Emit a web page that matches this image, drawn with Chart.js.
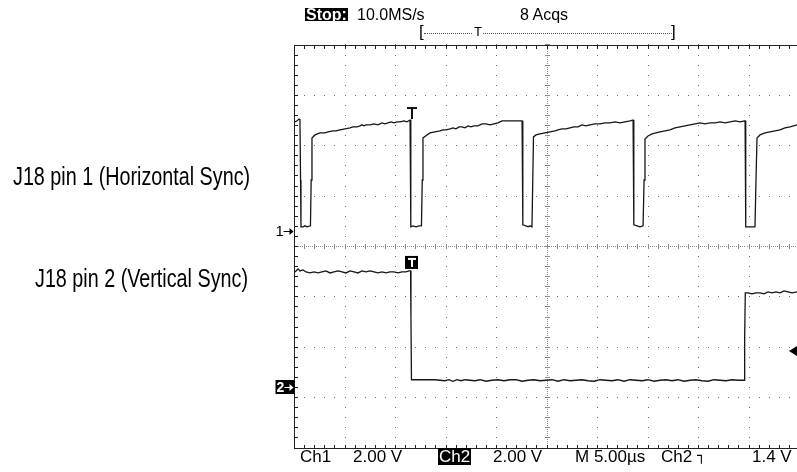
<!DOCTYPE html>
<html lang="pt-BR">
<head>
<meta charset="utf-8">
<title>J18 - sincronismo</title>
<script src="https://cdn.jsdelivr.net/npm/chart.js@4.4.1/dist/chart.umd.min.js"></script>
<style>
  html, body { margin: 0; padding: 0; background: #fff; overflow: hidden; }
  #quadro { position: relative; width: 797px; height: 472px; }
  #graficoCanvas { position: absolute; left: 0; top: 0; }
  .txt { position: absolute; font-family: "Liberation Sans", Arial, sans-serif; line-height: 1; white-space: nowrap; color: #000; }
  .topo { font-size: 16px; top: 7px; }
  .rodape { font-size: 17px; top: 448px; }
  .inverso { background: #000; color: #fff; }
  .rotulo { font-size: 25px; transform-origin: 0 0; transform: scaleX(0.79); }
  .borda { font-family: "DejaVu Sans"; font-size: 14px; position: relative; top: -2px; }
</style>
</head>
<body>
<div id="quadro">
  <canvas id="graficoCanvas" width="797" height="472"></canvas>

  <!-- cabeçalho -->
  <div class="txt inverso" style="left:305px;top:8px;height:13px;line-height:13px;font-size:16px;font-weight:bold;padding:0 1px">Stop:</div>
  <div class="txt topo" style="left:357px">10.0MS/s</div>
  <div class="txt topo" style="left:520px">8 Acqs</div>
  <div class="txt" style="left:419px;top:23px;font-size:17px">[</div>
  <div style="position:absolute;left:424px;top:33px;width:248px;border-top:1px dotted #555"></div>
  <div class="txt" style="left:473px;top:25px;font-size:13px;background:#fff;padding:0 1px">T</div>
  <div class="txt" style="left:671px;top:23px;font-size:17px">]</div>

  <!-- rótulos dos canais -->
  <div class="txt rotulo" style="left:13px;top:164px">J18 pin 1 (Horizontal Sync)</div>
  <div class="txt rotulo" style="left:35px;top:266px">J18 pin 2 (Vertical Sync)</div>

  <!-- rodapé -->
  <div class="txt rodape" style="left:300px">Ch1</div>
  <div class="txt rodape" style="left:353px">2.00 V</div>
  <div class="txt rodape inverso" style="left:438px;padding:0 1px">Ch2</div>
  <div class="txt rodape" style="left:493px">2.00 V</div>
  <div class="txt rodape" style="left:575px">M 5.00µs</div>
  <div class="txt rodape" style="left:661px">Ch2 <span class="borda">┐</span></div>
  <div class="txt rodape" style="left:752px">1.4 V</div>
</div>

<script>
const tempoCh1 = [
  0.05, 0.25, 0.45, 0.54, 0.60, 0.64, 0.84, 1.04, 1.24, 1.58, 1.65, 1.73,
  2.03, 2.52, 3.02, 3.32, 3.81, 4.11, 4.50, 5.00, 5.50, 5.79, 6.19, 6.49, 6.68, 6.88,
  7.08, 7.48, 7.87, 8.27, 8.66, 8.96, 9.26, 9.55, 9.85, 10.15, 10.44, 10.84, 11.14, 11.44,
  11.50, 11.53, 11.73, 12.03, 12.33, 12.57, 12.65, 12.72,
  13.12, 13.42, 13.91, 14.41, 14.70, 15.00, 15.40, 15.69, 15.99, 16.29, 16.58, 16.88,
  17.18, 17.48, 17.77, 18.17, 18.57, 18.96, 19.36, 19.75, 20.15, 20.54, 21.33, 22.53,
  22.59, 22.62, 22.92, 23.12, 23.32, 23.51, 23.59, 23.66,
  23.91, 24.31, 24.80, 25.30, 25.79, 26.09, 26.48, 26.88, 27.28, 27.67, 28.07, 28.46,
  28.86, 29.26, 29.75, 30.25, 30.74, 31.24, 31.73, 32.23, 32.72, 33.22, 33.52,
  33.58, 33.61, 33.91, 34.21, 34.51, 34.61, 34.70,
  35.00, 35.40, 35.79, 36.19, 36.68, 37.18, 37.67, 38.17, 38.66, 39.16, 39.65,
  40.15, 40.64, 41.15, 41.64, 42.14, 42.63, 43.13, 43.62, 44.12, 44.61,
  44.65, 44.70, 45.10, 45.40, 45.59, 45.69, 45.79,
  46.09, 46.58, 47.08, 47.57, 48.07, 48.56, 49.06, 49.75
];
const tensaoCh1 = [
  4.33, 4.37, 4.44, 4.40, 2.02, 0.16, 0.16, 0.20, 0.16, 0.20, 2.02, 3.69,
  3.81, 3.89, 3.89, 3.93, 3.97, 3.97, 4.01, 4.05, 4.09, 4.13, 4.13, 4.17, 4.21, 4.17,
  4.21, 4.21, 4.25, 4.21, 4.29, 4.25, 4.29, 4.33, 4.29, 4.33, 4.33, 4.37, 4.33, 4.40,
  2.02, 0.16, 0.20, 0.16, 0.20, 0.20, 2.02, 3.69,
  3.81, 3.89, 3.93, 3.97, 4.01, 4.01, 4.05, 4.09, 4.05, 4.13, 4.13, 4.09,
  4.17, 4.13, 4.17, 4.17, 4.25, 4.25, 4.21, 4.25, 4.29, 4.37, 4.37, 4.37,
  2.02, 0.24, 0.20, 0.16, 0.20, 0.16, 2.02, 3.73,
  3.81, 3.85, 3.89, 3.93, 3.97, 4.01, 4.05, 4.05, 4.09, 4.13, 4.13, 4.21,
  4.17, 4.21, 4.25, 4.25, 4.29, 4.29, 4.33, 4.29, 4.33, 4.37, 4.40,
  2.02, 0.24, 0.20, 0.16, 0.20, 2.02, 3.65,
  3.77, 3.85, 3.89, 3.93, 3.97, 4.01, 4.09, 4.13, 4.17, 4.21, 4.25,
  4.29, 4.25, 4.29, 4.29, 4.33, 4.29, 4.33, 4.37, 4.33, 4.37,
  2.02, 0.16, 0.16, 0.16, 0.16, 2.02, 3.69,
  3.81, 3.89, 3.93, 3.97, 4.01, 4.09, 4.13, 4.21
];

const tempoCh2 = [
  0.05, 0.35, 0.54, 0.84, 1.14, 1.53, 1.93, 2.33, 2.72, 3.12,
  3.51, 3.91, 4.31, 4.70, 5.10, 5.50, 5.89, 6.29, 6.68, 7.08,
  7.48, 7.87, 8.27, 8.66, 9.06, 9.46, 9.85, 10.25, 10.64, 11.04,
  11.34, 11.49,
  11.53, 11.58,
  11.93, 12.92, 13.91, 14.90, 15.30, 15.69, 16.09, 16.49, 16.88, 17.38,
  17.87, 18.37, 18.96, 19.55, 20.15, 20.74, 21.34, 21.93, 22.53, 23.12,
  23.71, 24.31, 24.90, 25.50, 26.09, 26.68, 27.28, 27.87, 28.47, 29.06,
  29.65, 30.25, 30.84, 31.44, 32.03, 32.62, 33.22, 33.81, 34.41, 35.00,
  35.59, 36.19, 36.78, 37.38, 37.97, 38.56, 39.16, 39.75, 40.35, 40.94,
  41.53, 42.13, 42.72, 43.32, 43.91, 44.51,
  44.57, 44.63,
  44.90, 45.30, 45.69, 46.09, 46.49, 46.88, 47.28, 47.67, 48.07, 48.47, 48.86, 49.26, 49.75
];
const tensaoCh2 = [
  4.55, 4.67, 4.59, 4.63, 4.55, 4.51, 4.55, 4.51, 4.55, 4.59,
  4.51, 4.55, 4.59, 4.55, 4.51, 4.59, 4.55, 4.51, 4.59, 4.55,
  4.59, 4.55, 4.51, 4.55, 4.51, 4.55, 4.55, 4.51, 4.55, 4.55,
  4.59, 4.59,
  2.65, 0.27,
  0.27, 0.27, 0.27, 0.23, 0.27, 0.21, 0.27, 0.23, 0.27, 0.25,
  0.23, 0.27, 0.21, 0.25, 0.27, 0.23, 0.27, 0.27, 0.21, 0.25,
  0.27, 0.23, 0.25, 0.27, 0.21, 0.27, 0.23, 0.25, 0.27, 0.23,
  0.21, 0.27, 0.25, 0.23, 0.27, 0.21, 0.27, 0.25, 0.23, 0.27,
  0.21, 0.25, 0.27, 0.23, 0.27, 0.21, 0.25, 0.27, 0.23, 0.21,
  0.27, 0.25, 0.23, 0.27, 0.25, 0.25,
  1.97, 3.72,
  3.72, 3.68, 3.72, 3.72, 3.68, 3.76, 3.72, 3.76, 3.72, 3.80, 3.76, 3.72, 3.76
];

// Ajustes da tela
const usPorDivisao = 5;
const voltsPorDivisao = 2;
const tempoTela = 49.75;      // parte visivel dos 50 µs
const divisoesY = 4;          // +-4 divisoes
const posicaoCh1 = 0.31;      // marcador 1-> (divisoes)
const posicaoCh2 = -2.78;     // marcador 2-> (divisoes)
const tempoTrigger = 11.5;    // µs
const nivelTrigger = 1.4;     // V, no Ch2

// converte tensao do canal em posicao na tela (divisoes)
function pontos(tempos, tensoes, posicao) {
  return tempos.map((t, i) => ({ x: t, y: posicao + tensoes[i] / voltsPorDivisao }));
}

// valor do traco logo antes do trigger
function nivelNoTrigger(tempos, tensoes) {
  let i = tempos.findIndex(t => t >= tempoTrigger) - 1;
  return tensoes[Math.max(i, 0)];
}

// Reticulado do osciloscopio (pontilhado + moldura)
const reticulado = {
  id: 'reticulado',
  beforeDatasetsDraw(chart) {
    const { ctx, chartArea: a, scales: { x, y } } = chart;
    const px = v => Math.floor(x.getPixelForValue(v));
    const py = v => Math.floor(y.getPixelForValue(v));
    const passoX = usPorDivisao / 5;
    ctx.save();

    // linhas de divisao pontilhadas
    ctx.fillStyle = '#6e6e6e';
    for (let d = -divisoesY + 1; d < divisoesY; d++) {
      if (d === 0) continue;
      for (let t = 0; t <= tempoTela; t += passoX) ctx.fillRect(px(t), py(d), 1, 1);
    }
    for (let t = usPorDivisao; t < tempoTela; t += usPorDivisao) {
      if (t === usPorDivisao * 5) continue;
      for (let d = -divisoesY; d <= divisoesY + 0.001; d += 0.2) ctx.fillRect(px(t), py(d), 1, 1);
    }

    // eixos centrais com marcas
    ctx.fillStyle = '#8a8a8a';
    const yc = py(0), xc = px(usPorDivisao * 5);
    for (let t = 0; t <= tempoTela; t += passoX / 5) ctx.fillRect(px(t), yc, 1, 1);
    for (let t = 0; t <= tempoTela; t += passoX) ctx.fillRect(px(t), yc - 2, 1, 5);
    for (let d = -divisoesY; d <= divisoesY; d += 0.04) ctx.fillRect(xc, py(d), 1, 1);
    for (let d = -divisoesY; d <= divisoesY + 0.001; d += 0.2) ctx.fillRect(xc - 2, py(d), 5, 1);

    // moldura
    ctx.fillStyle = '#222';
    const esq = Math.floor(a.left), topo = Math.floor(a.top), base = Math.floor(a.bottom);
    ctx.fillRect(esq, topo, a.right - esq, 1);
    ctx.fillRect(esq, base, a.right - esq, 1);
    ctx.fillRect(esq, topo, 1, base - topo + 1);
    for (let t = passoX; t <= tempoTela; t += passoX) {
      ctx.fillRect(px(t), topo, 1, 4);
      ctx.fillRect(px(t), base - 3, 1, 4);
    }
    for (let d = -divisoesY + 0.2; d < divisoesY; d += 0.2) ctx.fillRect(esq, py(d), 4, 1);
    ctx.restore();
  }
};

function seta(ctx, x0, x1, yy, cor) {
  ctx.strokeStyle = cor;
  ctx.fillStyle = cor;
  ctx.lineWidth = 1;
  ctx.beginPath();
  ctx.moveTo(x0, yy + 0.5);
  ctx.lineTo(x1 - 3, yy + 0.5);
  ctx.stroke();
  ctx.beginPath();
  ctx.moveTo(x1, yy + 0.5);
  ctx.lineTo(x1 - 4, yy - 3);
  ctx.lineTo(x1 - 4, yy + 4);
  ctx.closePath();
  ctx.fill();
}

// Marcadores: referencias dos canais, T do trigger, nivel do trigger
const marcadores = {
  id: 'marcadores',
  afterDatasetsDraw(chart) {
    const { ctx, chartArea: a, scales: { x, y } } = chart;
    ctx.save();
    ctx.textBaseline = 'middle';

    // 1->
    const y1 = Math.round(y.getPixelForValue(posicaoCh1));
    ctx.fillStyle = '#000';
    ctx.font = '15px "Liberation Sans"';
    ctx.textAlign = 'left';
    ctx.fillText('1', a.left - 19, y1 + 1);
    seta(ctx, a.left - 11, a.left - 1, y1, '#000');

    // 2-> em caixa preta
    const y2 = Math.round(y.getPixelForValue(posicaoCh2));
    ctx.fillStyle = '#000';
    ctx.fillRect(a.left - 19, y2 - 7, 19, 14);
    ctx.fillStyle = '#fff';
    ctx.font = 'bold 14px "Liberation Sans"';
    ctx.fillText('2', a.left - 18, y2 + 1);
    seta(ctx, a.left - 10, a.left - 1, y2, '#fff');

    // T do trigger sobre o Ch1
    const xt = Math.round(x.getPixelForValue(tempoTrigger));
    const yt1 = y.getPixelForValue(posicaoCh1 + nivelNoTrigger(tempoCh1, tensaoCh1) / voltsPorDivisao);
    ctx.fillStyle = '#111';
    ctx.fillRect(xt - 4, yt1 - 13, 10, 2);
    ctx.fillRect(xt, yt1 - 13, 2, 12);

    // T do trigger em caixa sobre o Ch2
    const yt2 = y.getPixelForValue(posicaoCh2 + nivelNoTrigger(tempoCh2, tensaoCh2) / voltsPorDivisao);
    ctx.fillStyle = '#000';
    ctx.fillRect(xt - 6, yt2 - 15, 13, 13);
    ctx.fillStyle = '#fff';
    ctx.fillRect(xt - 3, yt2 - 13, 8, 2);
    ctx.fillRect(xt, yt2 - 13, 2, 9);

    // nivel do trigger (seta cheia na borda direita)
    const yn = Math.round(y.getPixelForValue(posicaoCh2 + nivelTrigger / voltsPorDivisao));
    ctx.fillStyle = '#000';
    ctx.beginPath();
    ctx.moveTo(a.right - 8, yn);
    ctx.lineTo(a.right, yn - 5);
    ctx.lineTo(a.right, yn + 5);
    ctx.closePath();
    ctx.fill();
    ctx.restore();
  }
};

const ctx = document.getElementById('graficoCanvas').getContext('2d');
new Chart(ctx, {
  type: 'line',
  data: {
    datasets: [
      { label: 'Ch1', data: pontos(tempoCh1, tensaoCh1, posicaoCh1) },
      { label: 'Ch2', data: pontos(tempoCh2, tensaoCh2, posicaoCh2) }
    ]
  },
  options: {
    responsive: false,
    animation: false,
    devicePixelRatio: 1,
    layout: { padding: { left: 294.5, top: 45, right: 0, bottom: 24 } },
    elements: {
      line: { borderColor: '#161616', borderWidth: 1.3, tension: 0, fill: false },
      point: { radius: 0, hoverRadius: 0 }
    },
    plugins: { legend: { display: false }, tooltip: { enabled: false } },
    scales: {
      x: { type: 'linear', display: false, min: 0, max: tempoTela },
      y: { type: 'linear', display: false, min: -divisoesY, max: divisoesY }
    }
  },
  plugins: [reticulado, marcadores]
});
</script>
</body>
</html>
